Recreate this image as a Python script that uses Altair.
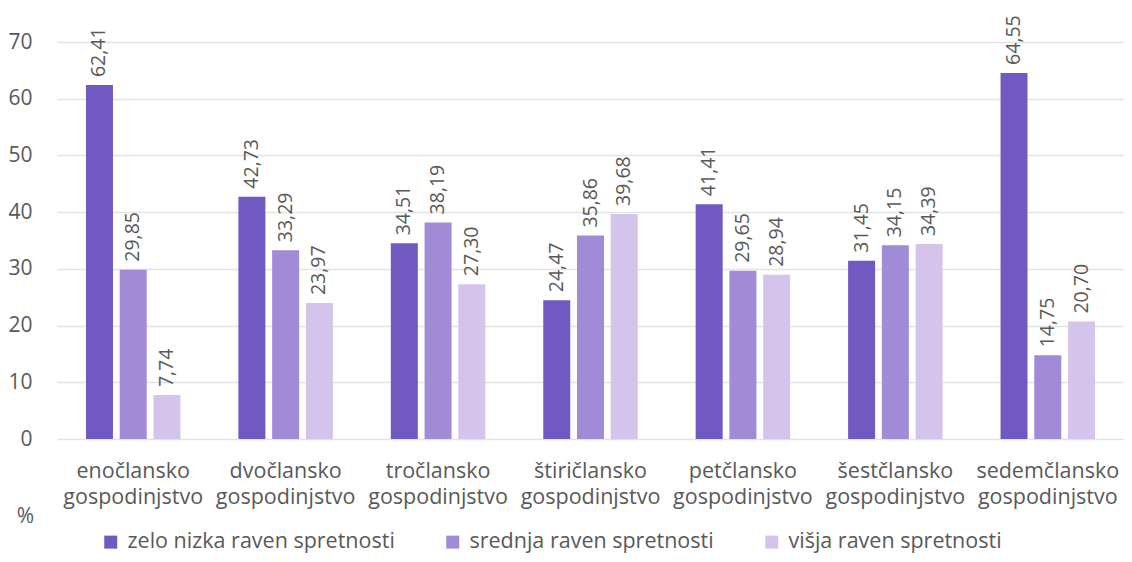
import altair as alt
import pandas as pd

categories = [
    "enočlansko gospodinjstvo",
    "dvočlansko gospodinjstvo",
    "tročlansko gospodinjstvo",
    "štiričlansko gospodinjstvo",
    "petčlansko gospodinjstvo",
    "šestčlansko gospodinjstvo",
    "sedemčlansko gospodinjstvo",
]
series = ["zelo nizka raven spretnosti", "srednja raven spretnosti", "višja raven spretnosti"]
zelo_nizka = [62.41, 42.73, 34.51, 24.47, 41.41, 31.45, 64.55]
srednja = [29.85, 33.29, 38.19, 35.86, 29.65, 34.15, 14.75]
visja = [7.74, 23.97, 27.30, 39.68, 28.94, 34.39, 20.70]
colors = ["#7159c2", "#a18ad6", "#d4c4ec"]
y_ticks = [0, 10, 20, 30, 40, 50, 60, 70]

rows = []
for s, vals in zip(series, [zelo_nizka, srednja, visja]):
    for c, v in zip(categories, vals):
        rows.append({"kat": c, "serija": s, "vrednost": v})
df = pd.DataFrame(rows)

FONT = "Open Sans"
GRAY = "#595959"

base = alt.Chart(df).transform_calculate(
    lbl="replace(format(datum.vrednost, '.2f'), '.', ',')"
).encode(
    x=alt.X(
        "kat:N",
        sort=categories,
        scale=alt.Scale(paddingInner=0.38, paddingOuter=0.19),
        axis=alt.Axis(
            title=None,
            labelExpr="split(datum.label, ' ')",
            labelAngle=0,
            labelFontSize=21.5,
            labelLineHeight=26,
            labelColor=GRAY,
            labelFont=FONT,
            labelPadding=21,
            ticks=False,
            domain=False,
            grid=False,
        ),
    ),
    xOffset=alt.XOffset("serija:N", sort=series, scale=alt.Scale(paddingInner=0.2)),
    y=alt.Y(
        "vrednost:Q",
        scale=alt.Scale(domain=[0, 70], nice=False),
        axis=alt.Axis(
            values=y_ticks,
            title="%",
            titleAngle=0,
            titleX=-32,
            titleY=474,
            titleAlign="center",
            titleBaseline="middle",
            titleFontSize=21,
            titleFontWeight="normal",
            titleColor=GRAY,
            titleFont=FONT,
            labelFontSize=21,
            labelColor=GRAY,
            labelFont=FONT,
            labelPadding=25,
            ticks=False,
            domain=False,
            gridColor="#e3e3e3",
            gridWidth=1.5,
        ),
    ),
)

bars = base.mark_bar().encode(
    color=alt.Color(
        "serija:N",
        sort=series,
        scale=alt.Scale(domain=series, range=colors),
        legend=alt.Legend(
            title=None,
            orient="none",
            legendX=43,
            legendY=489,
            direction="horizontal",
            columns=3,
            symbolType="square",
            symbolSize=169,
            symbolStrokeWidth=0,
            labelFontSize=21.5,
            labelFont=FONT,
            labelColor=GRAY,
            labelOffset=6,
            columnPadding=47,
            labelLimit=400,
        ),
    )
)

text = base.mark_text(
    angle=270, align="left", baseline="middle", dx=8, fontSize=19.5, font=FONT, color=GRAY
).encode(text="lbl:N")

chart = (
    alt.layer(bars, text)
    .properties(
        width=1067,
        height=397,
        autosize="none",
        padding={"left": 49, "top": 34, "right": 0, "bottom": 115},
    )
    .configure_view(stroke=None)
)

chart.save("out.html", embed_options={"renderer": "svg", "actions": False})
